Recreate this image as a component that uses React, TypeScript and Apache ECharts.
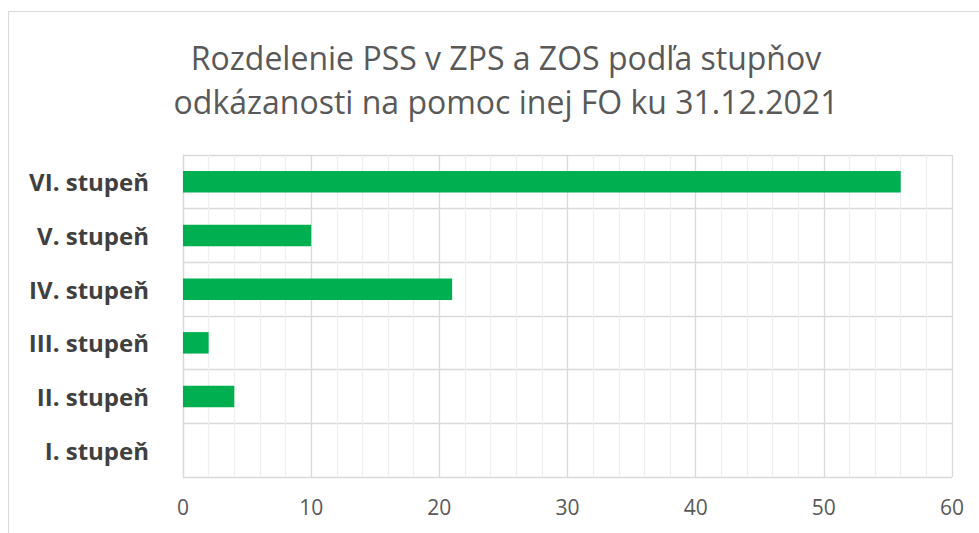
import React, { useEffect, useRef } from "react";
import * as echarts from "echarts";

const titleLines = [
  "Rozdelenie PSS v ZPS a ZOS podľa stupňov",
  "odkázanosti na pomoc inej FO ku 31.12.2021",
];
const categories = ["I. stupeň", "II. stupeň", "III. stupeň", "IV. stupeň", "V. stupeň", "VI. stupeň"];
const values = [0, 4, 2, 21, 10, 56];
const xMin = 0;
const xMax = 60;
const xInterval = 10;

export default function App() {
  const ref = useRef<HTMLDivElement>(null);
  useEffect(() => {
    if (!ref.current) return;
    const chart = echarts.init(ref.current, null, { renderer: "svg" });
    const font = "'Open Sans', 'Noto Sans', sans-serif";
    chart.setOption({
      animation: false,
      backgroundColor: "#ffffff",
      textStyle: { fontFamily: font },
      title: {
        text: titleLines.join("\n"),
        left: 501,
        textAlign: "center",
        top: 30,
        textStyle: {
          fontFamily: font,
          fontSize: 32,
          fontWeight: "normal",
          color: "#595959",
          lineHeight: 44,
        },
      },
      graphic: [
        {
          type: "rect",
          shape: { x: 8.5, y: 11.5, width: 1000, height: 600 },
          style: { fill: "none", stroke: "#d9d9d9", lineWidth: 1 },
          silent: true,
        },
      ],
      grid: { left: 183, right: 27, top: 155, bottom: 56, containLabel: false },
      xAxis: {
        type: "value",
        min: xMin,
        max: xMax,
        interval: xInterval,
        axisLine: { show: false },
        axisTick: { show: false },
        axisLabel: { color: "#595959", fontSize: 21, margin: 19, fontFamily: font },
        splitLine: { show: true, lineStyle: { color: "#d9d9d9", width: 1.3 } },
        minorTick: { show: false, splitNumber: 5 },
        minorSplitLine: { show: true, lineStyle: { color: "#efefef", width: 1.3 } },
      },
      yAxis: {
        type: "category",
        data: categories,
        axisLine: { show: true, lineStyle: { color: "#d9d9d9", width: 1.3 } },
        axisTick: { show: false },
        axisLabel: {
          color: "#404040",
          fontSize: 24,
          fontWeight: "bold",
          margin: 34,
          fontFamily: font,
        },
        splitLine: { show: true, lineStyle: { color: "#d9d9d9", width: 1.3 } },
      },
      series: [
        {
          type: "bar",
          data: values,
          barWidth: "40%",
          itemStyle: { color: "#00b050" },
        },
      ],
    });
    return () => chart.dispose();
  }, []);
  return (
    <div
      ref={ref}
      style={{ position: "fixed", left: 0, top: 0, width: 979, height: 533 }}
    />
  );
}
